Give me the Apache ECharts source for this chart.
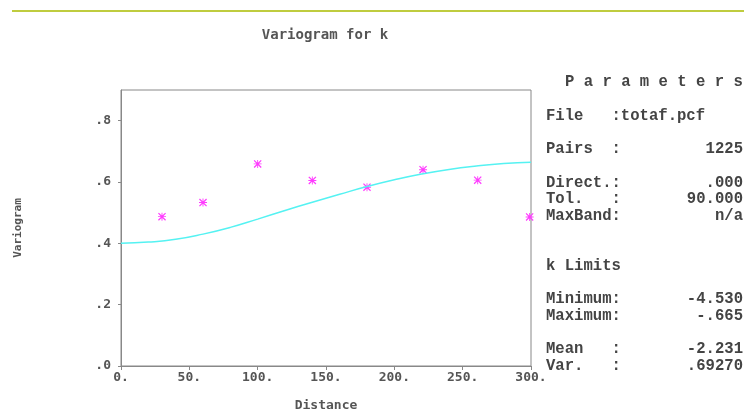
<!DOCTYPE html>
<html>
<head>
<meta charset="utf-8">
<title>Variogram for k</title>
<script src="https://cdn.jsdelivr.net/npm/echarts@6/dist/echarts.min.js"></script>
<style>
    html, body { margin: 0; padding: 0; background: #ffffff; }
    #chart { width: 744px; height: 414px; }
</style>
</head>
<body>
<div id="chart"></div>
<script>
// experimental variogram (lag distance / gamma)
var lagDist = [30, 60, 100, 140, 180, 221, 261, 299];
var gammaVals = [0.487, 0.533, 0.659, 0.605, 0.583, 0.640, 0.606, 0.486];

// fitted model curve
var modelDist = [0, 20, 40, 60, 80, 100, 120, 140, 160, 180, 200, 220, 240, 260, 280, 300];
var modelVals = [0.400, 0.404, 0.413, 0.430, 0.452, 0.479, 0.507, 0.534, 0.560, 0.585, 0.607, 0.626, 0.641, 0.652, 0.660, 0.664];

// parameters panel
var paramLabels = ["File   :", "Pairs  :", "Direct.:", "Tol.   :", "MaxBand:", "k Limits", "Minimum:", "Maximum:", "Mean   :", "Var.   :"];
var paramValues = ["totaf.pcf", "1225", ".000", "90.000", "n/a", "", "-4.530", "-.665", "-2.231", ".69270"];
var paramRowsY = [116, 149, 183, 199, 216, 266, 299, 316, 349, 366];

var plotFont = "DejaVu Sans Mono";
var panelFont = "Liberation Mono";
var textGrey = "#555555";

var myChart = echarts.init(document.getElementById("chart"));

var graphics = [
    {
        type: "line",
        shape: { x1: 12, y1: 11, x2: 744, y2: 11 },
        style: { stroke: "#bfcc3f", lineWidth: 2 }
    },
    {
        type: "text",
        x: 325, y: 35,
        style: {
            text: "Variogram for k",
            font: "bold 14px '" + plotFont + "'",
            fill: textGrey,
            textAlign: "center",
            textVerticalAlign: "middle"
        }
    },
    {
        type: "text",
        x: 565, y: 82,
        style: {
            text: "P a r a m e t e r s",
            font: "bold 15.6px '" + panelFont + "'",
            fill: "#444444",
            textVerticalAlign: "middle"
        }
    }
];

for (var i = 0; i < paramLabels.length; i++) {
    var isFile = i === 0;
    graphics.push({
        type: "text",
        x: 546, y: paramRowsY[i],
        style: {
            text: isFile ? paramLabels[i] + paramValues[i] : paramLabels[i],
            font: "bold 15.6px '" + panelFont + "'",
            fill: "#444444",
            textVerticalAlign: "middle"
        }
    });
    if (!isFile && paramValues[i]) {
        graphics.push({
            type: "text",
            x: 743, y: paramRowsY[i],
            style: {
                text: paramValues[i],
                font: "bold 15.6px '" + panelFont + "'",
                fill: "#444444",
                textAlign: "right",
                textVerticalAlign: "middle"
            }
        });
    }
}

var asterisk = "path://M4,0L5,0L5,9L4,9Z M0,4L9,4L9,5L0,5Z M0,1L1,0L9,8L8,9Z M8,0L9,1L1,9L0,8Z";

var option = {
    animation: false,
    backgroundColor: "#ffffff",
    grid: {
        left: 121,
        right: 213,
        top: 90,
        bottom: 48,
        outerBoundsMode: "none",
        show: true,
        borderColor: "#888888",
        borderWidth: 1,
        backgroundColor: "transparent"
    },
    xAxis: {
        type: "value",
        min: 0,
        max: 300,
        interval: 50,
        name: "Distance",
        nameLocation: "middle",
        nameGap: 33,
        nameTextStyle: { fontFamily: plotFont, fontWeight: "bold", fontSize: 13, color: textGrey },
        axisLine: { show: true, onZero: false, lineStyle: { color: "#888888" } },
        axisTick: { show: true, length: 4, lineStyle: { color: "#888888" } },
        axisLabel: {
            margin: 5,
            fontFamily: plotFont,
            fontWeight: "bold",
            fontSize: 13,
            color: textGrey,
            formatter: function (v) { return v + "."; }
        },
        splitLine: { show: false }
    },
    yAxis: {
        type: "value",
        min: 0,
        max: 0.9,
        interval: 0.2,
        name: "Variogram",
        nameLocation: "middle",
        nameGap: 97,
        nameRotate: 90,
        nameTextStyle: { fontFamily: plotFont, fontWeight: "bold", fontSize: 11, color: textGrey },
        axisLine: { show: true, onZero: false, lineStyle: { color: "#888888" } },
        axisTick: { show: true, length: 3, lineStyle: { color: "#888888" } },
        axisLabel: {
            margin: 10,
            showMaxLabel: false,
            fontFamily: plotFont,
            fontWeight: "bold",
            fontSize: 13,
            color: textGrey,
            formatter: function (v) { return v.toFixed(1).replace(/^0/, ""); }
        },
        splitLine: { show: false }
    },
    series: [
        {
            name: "model",
            type: "line",
            data: modelDist.map(function (d, k) { return [d, modelVals[k]]; }),
            smooth: true,
            showSymbol: false,
            lineStyle: { color: "#55f2f2", width: 1.5 }
        },
        {
            name: "gamma",
            type: "scatter",
            data: lagDist.map(function (d, k) { return [d, gammaVals[k]]; }),
            symbol: asterisk,
            symbolSize: 8,
            clip: false,
            itemStyle: { color: "#ff3cff", opacity: 1 }
        }
    ],
    graphic: graphics
};

myChart.setOption(option, true);
</script>
</body>
</html>
